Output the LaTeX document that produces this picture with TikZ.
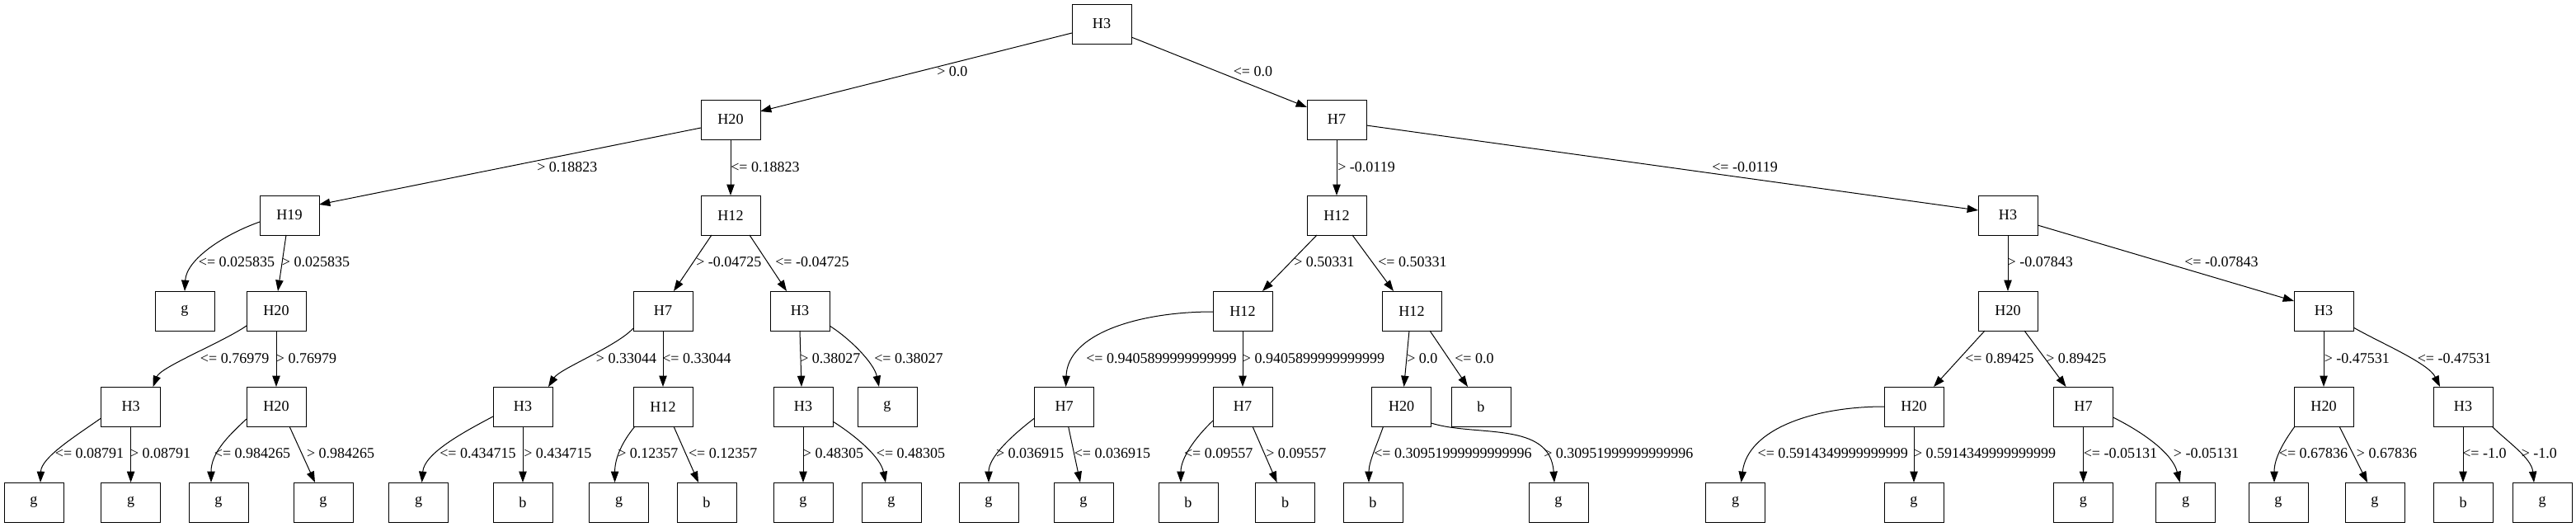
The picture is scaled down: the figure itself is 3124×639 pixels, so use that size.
\documentclass[tikz,border=0pt]{standalone}
\usepackage{fontspec}
\setmainfont{Liberation Serif}
\usetikzlibrary{calc,arrows.meta}
\begin{document}
\begin{tikzpicture}[x=0.75pt,y=-0.75pt,
  box/.style={draw,line width=0.75pt,minimum width=54pt,minimum height=36pt,inner sep=0pt,outer sep=0pt,font=\fontsize{13.6pt}{16pt}\selectfont},
  lab/.style={anchor=west,inner sep=0pt,font=\fontsize{13.5pt}{16pt}\selectfont},
  edge/.style={line width=0.75pt,-{Triangle[length=10pt,width=7pt]}}]
\useasboundingbox (0,0) rectangle (3124,639);
% level 0
\node[box] (r) at (1336,29) {H3};
% level 1
\node[box] (a) at (886,145) {H20};
\node[box] (b) at (1621,145) {H7};
% level 2
\node[box] (aa) at (351,261) {H19};
\node[box] (ab) at (886,261) {H12};
\node[box] (ba) at (1621,261) {H12};
\node[box] (bb) at (2435,261) {H3};
% level 3
\node[box] (aaa) at (224,377) {g};
\node[box] (aab) at (335,377) {H20};
\node[box] (aba) at (804,377) {H7};
\node[box] (abb) at (970,377) {H3};
\node[box] (baa) at (1507,377) {H12};
\node[box] (bab) at (1712,377) {H12};
\node[box] (bba) at (2435,377) {H20};
\node[box] (bbb) at (2818,377) {H3};
% level 4
\node[box] (aaba) at (158.6,493) {H3};
\node[box] (aabb) at (335,493) {H20};
\node[box] (abaa) at (634,493) {H3};
\node[box] (abab) at (804,493) {H12};
\node[box] (abba) at (974,493) {H3};
\node[box] (abbb) at (1076,493) {g};
\node[box] (baaa) at (1290.6,493) {H7};
\node[box] (baab) at (1507,493) {H7};
\node[box] (baba) at (1699.6,493) {H20};
\node[box] (babb) at (1796,493) {b};
\node[box] (bbaa) at (2321,493) {H20};
\node[box] (bbab) at (2526.5,493) {H7};
\node[box] (bbba) at (2818,493) {H20};
\node[box] (bbbb) at (2987,493) {H3};
% level 5
\node[box] (l1) at (41,609) {g};
\node[box] (l2) at (158.6,609) {g};
\node[box] (l3) at (265,609) {g};
\node[box] (l4) at (392,609) {g};
\node[box] (l5) at (507.6,609) {g};
\node[box] (l6) at (634,609) {b};
\node[box] (l7) at (750.6,609) {g};
\node[box] (l8) at (857,609) {b};
\node[box] (l9) at (974,609) {g};
\node[box] (l10) at (1081,609) {g};
\node[box] (l11) at (1199,609) {g};
\node[box] (l12) at (1314,609) {g};
\node[box] (l13) at (1441,609) {b};
\node[box] (l14) at (1558.6,609) {b};
\node[box] (l15) at (1665,609) {b};
\node[box] (l16) at (1890,609) {g};
\node[box] (l17) at (2104.6,609) {g};
\node[box] (l18) at (2321,609) {g};
\node[box] (l19) at (2526.5,609) {g};
\node[box] (l20) at (2650.6,609) {g};
\node[box] (l21) at (2763,609) {g};
\node[box] (l22) at (2880,609) {g};
\node[box] (l23) at (2987,609) {b};
\node[box] (l24) at (3083,609) {g};

% edges level 0-1
\draw[edge] ($(r)+(-36,11)$) -- ($(a)+(36,-10)$);
\draw[edge] ($(r)+(36,16)$) -- ($(b)+(-36,-15)$);
% level 1-2
\draw[edge] ($(a)+(-36,10)$) -- ($(aa)+(36,-13)$);
\draw[edge] (a.south) -- (ab.north);
\draw[edge] (b.south) -- (ba.north);
\draw[edge] ($(b)+(36,7)$) -- ($(bb)+(-36,-6)$);
% level 2-3
\draw[edge] ($(aa)+(-36,8)$) .. controls +(-45,16) and +(2,-38) .. (aaa.north);
\draw[edge] ($(aa.south)+(-4,0)$) -- ($(aab.north)+(2,0)$);
\draw[edge] ($(ab.south)+(-23,0)$) -- ($(aba.north)+(13,0)$);
\draw[edge] ($(ab.south)+(23,0)$) -- ($(abb.north)+(-16,0)$);
\draw[edge] ($(ba.south)+(-24,0)$) -- ($(baa.north)+(24,0)$);
\draw[edge] ($(ba.south)+(19,0)$) -- ($(bab.north)+(-22,0)$);
\draw[edge] (bb.south) -- (bba.north);
\draw[edge] ($(bb)+(36,12)$) -- ($(bbb)+(-36,-12)$);
% level 3-4
\draw[edge] ($(aab)+(-36,18)$) .. controls +(-29,20) and +(9,-24) .. ($(aaba.north)+(27,0)$);
\draw[edge] (aab.south) -- (aabb.north);
\draw[edge] ($(aba)+(-36,21)$) .. controls +(-20,22) and +(14,-22) .. ($(abaa.north)+(31,0)$);
\draw[edge] (aba.south) -- (abab.north);
\draw[edge] (abb.south) -- ($(abba.north)+(-2,0)$);
\draw[edge] ($(abb)+(36,18)$) .. controls +(24,15) and +(-6,-29) .. ($(abbb.north)+(-10,0)$);
\draw[edge] ($(baa)+(-36,1)$) .. controls +(-91,0) and +(2,-64) .. ($(baaa.north)+(2,0)$);
\draw[edge] (baa.south) -- (baab.north);
\draw[edge] ($(bab.south)+(-3,0)$) -- ($(baba.north)+(3,0)$);
\draw[edge] ($(bab.south)+(22,0)$) -- ($(babb.north)+(-16,0)$);
\draw[edge] ($(bba.south)+(-28,0)$) -- ($(bbaa.north)+(24,0)$);
\draw[edge] ($(bba.south)+(20,0)$) -- ($(bbab.north)+(-21,0)$);
\draw[edge] (bbb.south) -- (bbba.north);
\draw[edge] ($(bbb)+(36,20)$) .. controls +(31,18) and +(-14,-29) .. ($(bbbb.north)+(-28,0)$);
% level 4-5
\draw[edge] ($(aaba)+(-36,14)$) .. controls +(-33,23) and +(1,-30) .. ($(l1.north)+(8,0)$);
\draw[edge] (aaba.south) -- (l2.north);
\draw[edge] ($(aabb)+(-36,15)$) .. controls +(-24,22) and +(0,-35) .. ($(l3.north)+(-9,0)$);
\draw[edge] ($(aabb.south)+(16,0)$) -- ($(l4.north)+(-10,0)$);
\draw[edge] ($(abaa)+(-36,12)$) .. controls +(-38,20) and +(3,-35) .. ($(l5.north)+(4,0)$);
\draw[edge] (abaa.south) -- (l6.north);
\draw[edge] ($(abab.south)+(-34,0)$) .. controls +(-15,18) and +(0,-30) .. ($(l7.north)+(-5,0)$);
\draw[edge] ($(abab.south)+(13,0)$) -- ($(l8.north)+(-10,0)$);
\draw[edge] (abba.south) -- (l9.north);
\draw[edge] ($(abba)+(36,18)$) .. controls +(30,19) and +(-6,-30) .. ($(l10.north)+(-7,0)$);
\draw[edge] ($(baaa)+(-36,14)$) .. controls +(-30,23) and +(0,-30) .. (l11.north);
\draw[edge] ($(baaa.south)+(5,0)$) -- ($(l12.north)+(-4,0)$);
\draw[edge] ($(baab)+(-36,17)$) .. controls +(-21,20) and +(0,-30) .. ($(l13.north)+(-9,0)$);
\draw[edge] ($(baab.south)+(12,0)$) -- ($(l14.north)+(-10,0)$);
\draw[edge] ($(baba.south)+(-22,0)$) .. controls +(-8,23) and +(0,-25) .. ($(l15.north)+(-5,0)$);
\draw[edge] ($(baba)+(36,20)$) .. controls +(54,17) and +(-5,-75) .. ($(l16.north)+(-5,0)$);
\draw[edge] (bbaa.west) .. controls +(-85,0) and +(8,-65) .. ($(l17.north)+(7,0)$);
\draw[edge] (bbaa.south) -- (l18.north);
\draw[edge] (bbab.south) -- (l19.north);
\draw[edge] ($(bbab)+(36,13)$) .. controls +(38,19) and +(-9,-35) .. ($(l20.north)+(-7,0)$);
\draw[edge] ($(bbba.south)+(-35,0)$) .. controls +(-13,18) and +(0,-30) .. ($(l21.north)+(-5,0)$);
\draw[edge] ($(bbba.south)+(19,0)$) -- ($(l22.north)+(-9,0)$);
\draw[edge] (bbbb.south) -- (l23.north);
\draw[edge] ($(bbbb.south)+(35,0)$) .. controls +(18,18) and +(-3,-30) .. ($(l24.north)+(-10,0)$);

% labels
\node[lab] (t1) at (1136,87) {> 0.0};
\node[lab] (t2) at (1495.5,87) {<= 0.0};
\node[lab] (t3) at (651,203) {> 0.18823};
\node[lab] (t4) at (886,203) {<= 0.18823};
\node[lab] (t5) at (1622,203) {> -0.0119};
\node[lab] (t6) at (2076,203) {<= -0.0119};
\node[lab] (t7) at (240.6,318) {<= 0.025835};
\node[lab] (t8) at (341.6,318) {> 0.025835};
\node[lab] (t9) at (844,318) {> -0.04725};
\node[lab] (t10) at (940,318) {<= -0.04725};
\node[lab] (t11) at (1569,318) {> 0.50331};
\node[lab] (t12) at (1671,318) {<= 0.50331};
\node[lab] (t13) at (2434.4,318) {> -0.07843};
\node[lab] (t14) at (2649,318) {<= -0.07843};
\node[lab] (t15) at (242.7,435) {<= 0.76979};
\node[lab] (t16) at (334.6,435) {> 0.76979};
\node[lab] (t17) at (722.6,435) {> 0.33044};
\node[lab] (t18) at (803,435) {<= 0.33044};
\node[lab] (t19) at (970,435) {> 0.38027};
\node[lab] (t20) at (1060,435) {<= 0.38027};
\node[lab] (t21) at (1317,435) {<= 0.9405899999999999};
\node[lab] (t22) at (1506.7,435) {> 0.9405899999999999};
\node[lab] (t23) at (1706,435) {> 0.0};
\node[lab] (t24) at (1764,435) {<= 0.0};
\node[lab] (t25) at (2383,435) {<= 0.89425};
\node[lab] (t26) at (2481,435) {> 0.89425};
\node[lab] (t27) at (2818.5,435) {> -0.47531};
\node[lab] (t28) at (2931.5,435) {<= -0.47531};
\node[lab] (t29) at (66.6,550) {<= 0.08791};
\node[lab] (t30) at (157.8,550) {> 0.08791};
\node[lab] (t31) at (259.6,550) {<= 0.984265};
\node[lab] (t32) at (371.8,550) {> 0.984265};
\node[lab] (t33) at (533,550) {<= 0.434715};
\node[lab] (t34) at (635,550) {> 0.434715};
\node[lab] (t35) at (749,550) {> 0.12357};
\node[lab] (t36) at (834.8,550) {<= 0.12357};
\node[lab] (t37) at (973.7,550) {> 0.48305};
\node[lab] (t38) at (1062.6,550) {<= 0.48305};
\node[lab] (t39) at (1207.8,550) {> 0.036915};
\node[lab] (t40) at (1302.5,550) {<= 0.036915};
\node[lab] (t41) at (1435.8,550) {<= 0.09557};
\node[lab] (t42) at (1535,550) {> 0.09557};
\node[lab] (t43) at (1666,550) {<= 0.30951999999999996};
\node[lab] (t44) at (1872,550) {> 0.30951999999999996};
\node[lab] (t45) at (2131.4,550) {<= 0.5914349999999999};
\node[lab] (t46) at (2320.8,550) {> 0.5914349999999999};
\node[lab] (t47) at (2526.5,550) {<= -0.05131};
\node[lab] (t48) at (2635.6,550) {> -0.05131};
\node[lab] (t49) at (2763.6,550) {<= 0.67836};
\node[lab] (t50) at (2857.7,550) {> 0.67836};
\node[lab] (t51) at (2986,550) {<= -1.0};
\node[lab] (t52) at (3057.5,550) {> -1.0};
\end{tikzpicture}
\end{document}
